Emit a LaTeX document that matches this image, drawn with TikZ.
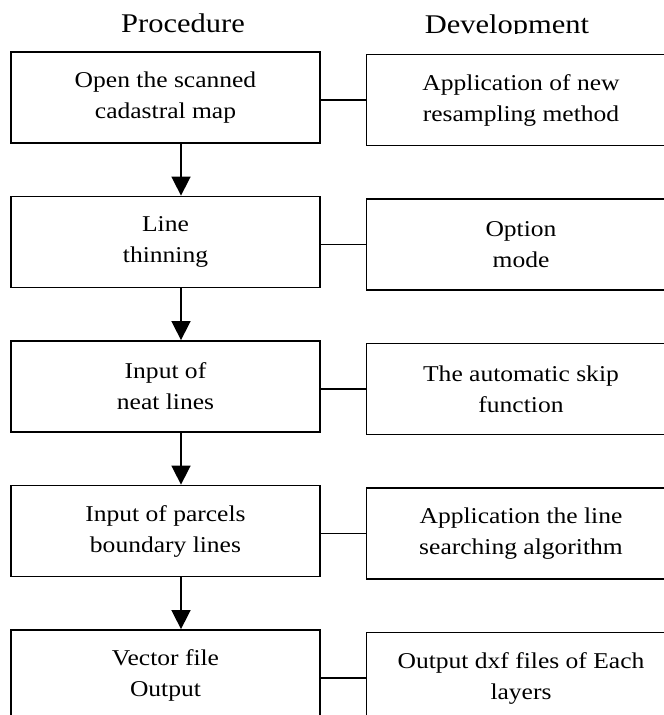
\documentclass[tikz,border=0pt]{standalone}
\usepackage{fontspec}
\setmainfont{Liberation Serif}[FakeStretch=1.13]
\usetikzlibrary{arrows.meta}

\tikzset{
  procbox/.style={draw, line width=1.8pt, minimum width=309pt, minimum height=91pt,
    inner sep=0pt, align=center, font=\fontsize{22.6pt}{31pt}\selectfont},
  devbox/.style={procbox},
  flowarrow/.style={line width=1.6pt, -{Triangle[length=19pt,width=19pt]}},
  link/.style={line width=1.6pt},
  heading/.style={anchor=base, inner sep=0pt, font=\fontsize{27pt}{32pt}\selectfont}
}

\begin{document}
\begin{tikzpicture}[x=1pt, y=-1pt]
  \useasboundingbox (0,0) rectangle (664,715);
  \clip (0,0) rectangle (664,715);
  % column headings
  \begin{scope}
    \clip (0,0) rectangle (664,33.5);
    \node[heading] (prochead) at (183,32.5) {Procedure};
    \node[heading] (devhead) at (507,33.5) {Development};
  \end{scope}
  % rows: procedure step and development
  \foreach \i/\ltxt/\rtxt in {
      1/{Open the scanned\\cadastral map}/{Application of new\\resampling method},
      2/{Line\\thinning}/{Option\\mode},
      3/{Input of\\neat lines}/{The automatic skip\\function},
      4/{Input of parcels\\boundary lines}/{Application the line\\searching algorithm},
      5/{Vector file\\Output}/{Output dxf files of Each\\layers}} {
    \node[procbox] (p\i) at (165.5, {97.5+(\i-1)*144.5}) {\ltxt};
    \node[devbox] (d\i) at (521, {100+(\i-1)*144.5}) {\rtxt};
    \draw[link] (p\i.east |- d\i.west) -- (d\i.west);
  }
  \foreach \i [evaluate=\i as \j using int(\i+1)] in {1,...,4}
    \draw[flowarrow] ([xshift=15.5pt]p\i.south) -- ([xshift=15.5pt]p\j.north);
\end{tikzpicture}
\end{document}
